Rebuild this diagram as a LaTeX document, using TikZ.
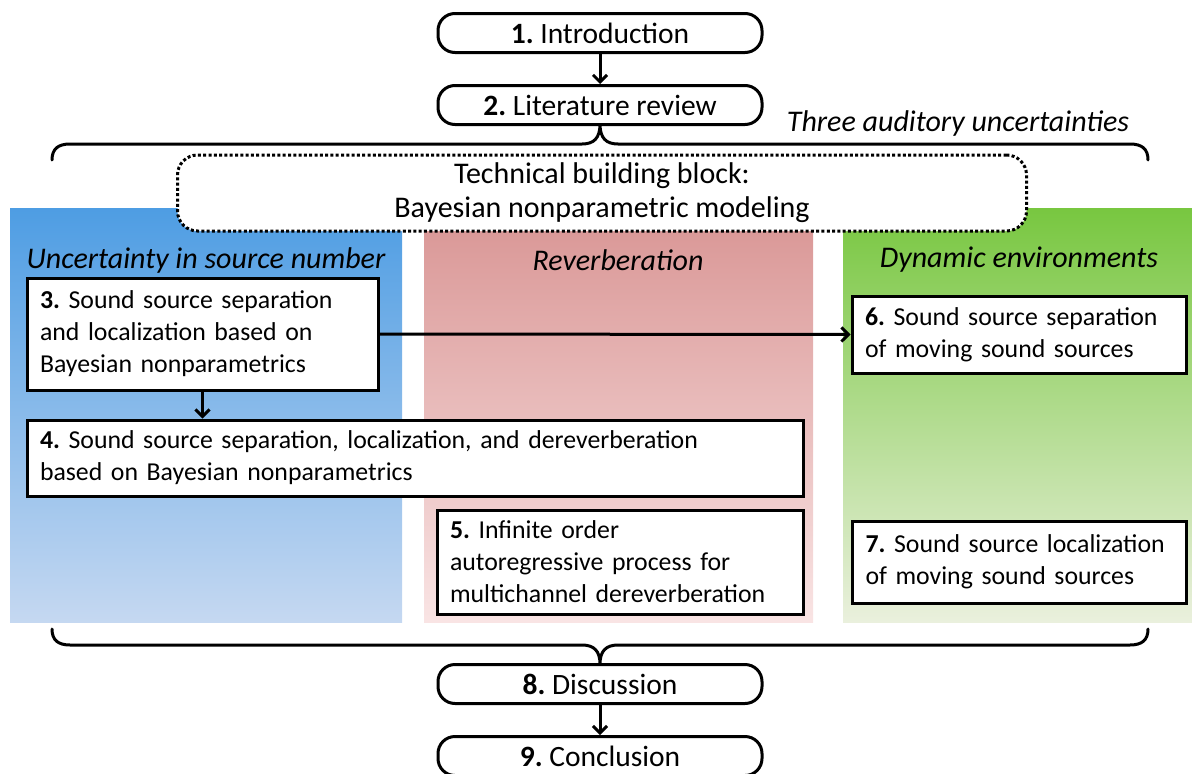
\documentclass[tikz,border=0pt]{standalone}
\usepackage{fontspec}
\setmainfont{Carlito}
\frenchspacing
\usetikzlibrary{arrows.meta}
\definecolor{blueTop}{RGB}{78,157,227}
\definecolor{blueBot}{RGB}{197,216,241}
\definecolor{redTop}{RGB}{217,149,148}
\definecolor{redBot}{RGB}{249,228,228}
\definecolor{greenTop}{RGB}{120,199,64}
\definecolor{greenMid}{RGB}{204,225,172}
\definecolor{greenBot}{RGB}{234,240,221}
\tikzset{
  chapter/.style={draw, line width=3pt, fill=white, rounded corners=17pt,
    minimum width=324pt, minimum height=39pt, inner sep=0pt,
    font=\fontsize{29.5}{32}\selectfont},
  topicbox/.style={draw, line width=3pt, fill=white, inner xsep=13pt, inner ysep=0pt,
    align=left, font=\fontsize{25.8}{32}\selectfont},
  paneltitle/.style={font=\fontsize{30}{34}\selectfont\itshape},
  flow/.style={line width=3pt, -{Straight Barb[length=7pt,width=14pt,line width=3pt]}},
  brace/.style={line width=3pt, line cap=round},
}
\begin{document}
\begin{tikzpicture}[x=1pt,y=-1pt]
\useasboundingbox (0,0) rectangle (1192,774);

% three coloured panels
\shade[top color=blueTop, bottom color=blueBot] (10,208) rectangle (402,622);
\shade[top color=redTop, bottom color=redBot] (424,208) rectangle (813,622);
\shade[top color=greenTop, middle color=greenMid, bottom color=greenBot] (843,208) rectangle (1192,622);

% top brace
\draw[brace] (52,160) .. controls (52,149) and (58,144) .. (70,144) -- (582,144)
  .. controls (594,144) and (600,138) .. (600,124)
  .. controls (600,138) and (606,144) .. (618,144) -- (1130,144)
  .. controls (1142,144) and (1148,149) .. (1148,160);
\node[paneltitle] (unc) at (958,123) {Three auditory uncertainties};

% shared technical building block
\node[draw, line width=3pt, dash pattern=on 3pt off 2.3pt, fill=white,
  rounded corners=20pt, minimum width=849pt, minimum height=76pt, inner sep=0pt,
  align=center, font=\fontsize{30}{34}\selectfont] (tech) at (602,193)
  {Technical building block:\\Bayesian nonparametric modeling};

% panel titles
\node[paneltitle] (t1) at (206,260) {Uncertainty in source number};
\node[paneltitle] (t2) at (618,260) {Reverberation};
\node[paneltitle] (t3) at (1019,260) {Dynamic environments};

% chapter nodes
\node[chapter] (c1) at (600,33) {\textbf{1.} Introduction};
\node[chapter] (c2) at (600,105) {\textbf{2.} Literature review};
\node[chapter] (c8) at (600,684) {\textbf{8.} Discussion};
\node[chapter] (c9) at (600,756) {\textbf{9.} Conclusion};

\node[topicbox, text width=325pt, minimum height=112pt] (c3) at (202.5,334)
  {\textbf{3.} Sound source separation\\and localization based on\\Bayesian nonparametrics};
\node[topicbox, text width=750pt, minimum height=76pt] (c4) at (415,458)
  {\textbf{4.} Sound source separation, localization, and dereverberation\\based on Bayesian nonparametrics};
\node[topicbox, text width=340pt, minimum height=104pt] (c5) at (620,562)
  {\textbf{5.} Infinite order\\autoregressive process for\\multichannel dereverberation};
\node[topicbox, text width=308pt, minimum height=77pt] (c6) at (1019,334.5)
  {\textbf{6.} Sound source separation\\of moving sound sources};
\node[topicbox, text width=308pt, minimum height=82pt] (c7) at (1019.5,562)
  {\textbf{7.} Sound source localization\\of moving sound sources};

% bottom brace
\draw[brace] (52,629) .. controls (52,640) and (58,645) .. (70,645) -- (582,645)
  .. controls (594,645) and (600,651) .. (600,664)
  .. controls (600,651) and (606,645) .. (618,645) -- (1130,645)
  .. controls (1142,645) and (1148,640) .. (1148,629);

% connectors
\draw[flow] (c1.south) -- (c2.north);
\draw[flow] (c3.south) -- (c3.south |- c4.north);
\draw[flow] (c3.east) -- (c6.west);
\draw[flow] (c8.south) -- (c9.north);
\end{tikzpicture}
\end{document}
